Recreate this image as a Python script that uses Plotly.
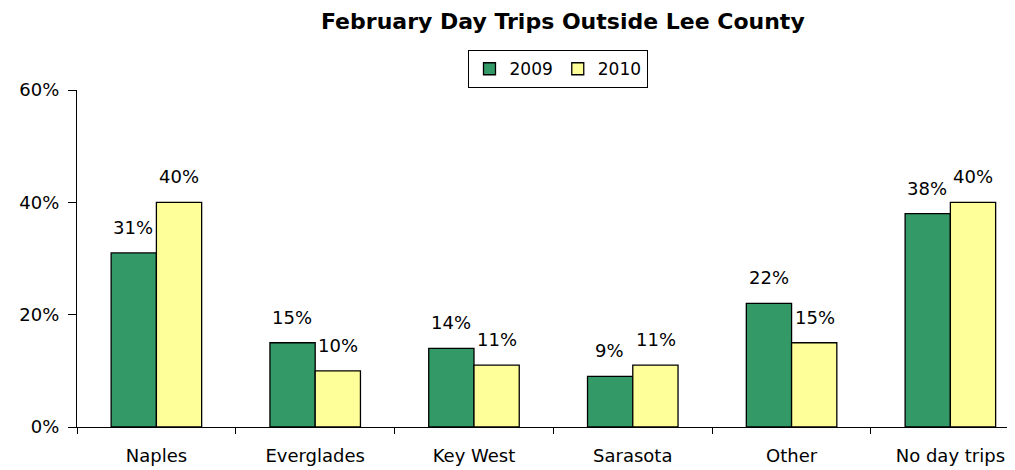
import plotly.graph_objects as go

categories = ["Naples", "Everglades", "Key West", "Sarasota", "Other", "No day trips"]
values_2009 = [0.31, 0.15, 0.14, 0.09, 0.22, 0.38]
values_2010 = [0.40, 0.10, 0.11, 0.11, 0.15, 0.40]
series_names = ["2009", "2010"]
y_ticks = [0, 0.2, 0.4, 0.6]
y_tick_labels = ["0%", "20%", "40%", "60%"]

FONT = "DejaVu Sans, Arial, sans-serif"
FS = 18
colors = ["#339966", "#FFFF99"]

fig = go.Figure()
for name, vals, col in zip(series_names, [values_2009, values_2010], colors):
    fig.add_trace(go.Bar(
        x=categories, y=vals, name=name,
        marker=dict(color=col, line=dict(color="black", width=1.3)),
    ))

annotations = []
for vals, shift in [(values_2009, -23), (values_2010, 23)]:
    for c, v in zip(categories, vals):
        annotations.append(dict(
            x=c, y=v, xref="x", yref="y", text=f"{round(v*100)}%",
            showarrow=False, xshift=shift, yshift=13, yanchor="bottom",
            font=dict(family=FONT, size=FS, color="black"),
        ))

fig.update_layout(
    width=1007, height=462,
    margin=dict(l=69, r=0, t=82, b=43, autoexpand=False),
    paper_bgcolor="white", plot_bgcolor="white",
    barmode="group", bargap=0.43, bargroupgap=0,
    title=dict(text="<b>February Day Trips Outside Lee County</b>",
               x=0.551, xanchor="center", y=0.972, yanchor="middle",
               font=dict(family=FONT, size=22, color="black")),
    legend=dict(orientation="h", x=0.513, xanchor="center", y=1.119, yanchor="top",
                bgcolor="white", bordercolor="black", borderwidth=1.3,
                font=dict(family=FONT, size=17, color="black"),
                itemwidth=30, traceorder="normal", tracegroupgap=0),
    xaxis=dict(range=[-0.5, 5.407],
               showline=True, linecolor="black", linewidth=1.3, ticks="outside",
               tickson="boundaries", ticklen=6, tickcolor="black", tickwidth=1.3,
               ticklabelstandoff=12,
               tickfont=dict(family=FONT, size=FS, color="black"),
               showgrid=False),
    yaxis=dict(range=[0, 0.6], tickvals=y_ticks, ticktext=y_tick_labels,
               showline=True, linecolor="black", linewidth=1.3, ticks="outside",
               ticklen=8, tickcolor="black", tickwidth=1.3, showgrid=False, zeroline=False,
               ticklabelstandoff=5,
               tickfont=dict(family=FONT, size=FS, color="black")),
    annotations=annotations,
    showlegend=True,
)

fig.write_html("out.html")
